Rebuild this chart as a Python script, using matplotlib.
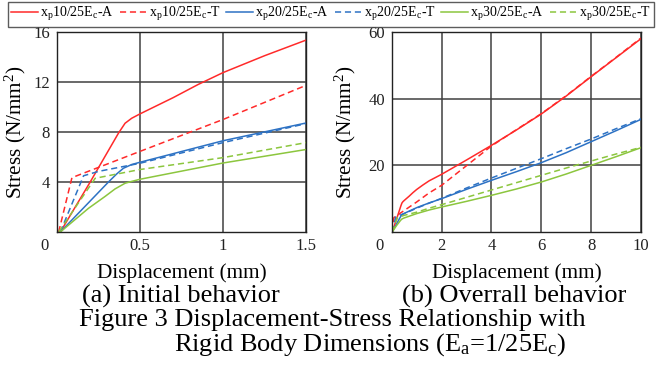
import numpy as np
import matplotlib
matplotlib.use("Agg")
import matplotlib.pyplot as plt
from matplotlib.lines import Line2D

plt.rcParams['font.family'] = ['Liberation Serif', 'DejaVu Serif']
plt.rcParams['mathtext.fontset'] = 'custom'
plt.rcParams['mathtext.rm'] = 'Liberation Serif'
plt.rcParams['mathtext.it'] = 'Liberation Serif:italic'

# displacement (mm) / stress (N/mm2) for each rigid-body size
x10a = [0.02, 0.2, 0.37, 0.41, 0.45, 0.5, 0.7, 0.85, 1.0, 1.25, 1.5, 2.0, 3.0, 4.0, 5.0, 6.0, 7.0, 8.0, 9.0, 10.0]
y10a = [0, 4.0, 7.9, 8.7, 9.1, 9.45, 10.75, 11.8, 12.75, 14.1, 15.35, 17.3, 21.6, 26.0, 30.6, 35.4, 40.8, 46.6, 52.3, 58.0]
x10t = [0.01, 0.09, 0.5, 1.0, 1.5, 2.0, 3.0, 4.0, 5.0, 6.0, 7.0, 8.0, 9.0, 10.0]
y10t = [0, 4.35, 6.45, 9.0, 11.73, 14.0, 19.9, 25.8, 30.7, 35.5, 40.9, 46.7, 52.4, 58.2]

x20a = [0.02, 0.31, 0.36, 0.4, 0.45, 0.5, 1.0, 1.5, 2.0, 3.0, 4.0, 5.0, 6.0, 7.0, 8.0, 9.0, 10.0]
y20a = [0, 4.0, 4.65, 5.1, 5.4, 5.58, 7.3, 8.72, 10.0, 12.8, 15.5, 18.1, 20.8, 23.8, 27.1, 30.4, 33.8]
x20t = [0.02, 0.16, 0.25, 0.5, 1.0, 1.5, 2.0, 3.0, 4.0, 5.0, 6.0, 7.0, 8.0, 9.0, 10.0]
y20t = [0, 4.5, 4.85, 5.5, 7.15, 8.67, 10.1, 13.2, 16.2, 19.1, 22.0, 25.0, 27.9, 31.0, 34.0]

x30a = [0.02, 0.19, 0.29, 0.35, 0.41, 0.45, 0.5, 1.0, 1.5, 2.0, 3.0, 4.0, 5.0, 6.0, 7.0, 8.0, 9.0, 10.0]
y30a = [0, 1.9, 2.85, 3.45, 3.9, 4.05, 4.22, 5.52, 6.6, 7.5, 9.2, 11.0, 12.9, 15.0, 17.4, 20.0, 22.6, 25.3]
x30t = [0.01, 0.23, 0.5, 1.0, 1.5, 2.0, 3.0, 4.0, 5.0, 6.0, 7.0, 8.0, 9.0, 10.0]
y30t = [0, 4.3, 5.0, 5.95, 7.15, 8.2, 10.4, 12.6, 14.8, 17.0, 19.2, 21.3, 23.4, 25.4]

labels = [r'x$_\mathrm{p}$10/25E$_\mathrm{c}$-A', r'x$_\mathrm{p}$10/25E$_\mathrm{c}$-T',
          r'x$_\mathrm{p}$20/25E$_\mathrm{c}$-A', r'x$_\mathrm{p}$20/25E$_\mathrm{c}$-T',
          r'x$_\mathrm{p}$30/25E$_\mathrm{c}$-A', r'x$_\mathrm{p}$30/25E$_\mathrm{c}$-T']

red, blue, green = '#ff2a2a', '#2d72c4', '#8cc63e'
series = [(x10a, y10a, red, '-'), (x10t, y10t, red, '--'),
          (x20a, y20a, blue, '-'), (x20t, y20t, blue, '--'),
          (x30a, y30a, green, '-'), (x30t, y30t, green, '--')]

fig = plt.figure(figsize=(6.62, 3.67), dpi=100)
ax1 = fig.add_axes([0.0861, 0.3678, 0.3761, 0.545])
ax2 = fig.add_axes([0.5917, 0.3678, 0.3766, 0.545])

for ax, xmax, xt, ymax, yt, ylx in [(ax1, 1.5, [0.5, 1, 1.5], 16, [4, 8, 12, 16], -0.115),
                                    (ax2, 10, [2, 4, 6, 8, 10], 60, [20, 40, 60], -0.135)]:
    for xs, ys, c, ls in series:
        ln, = ax.plot(xs, ys, color=c, lw=1.1, ls=ls)
        if ls == '--':
            ln.set_dashes((4, 2.5))
    ax.set_xlim(0, xmax)
    ax.set_ylim(0, ymax)
    ax.set_xticks(xt)
    ax.set_xticklabels([('%g' % v) for v in xt])
    ax.set_yticks(yt)
    ax.tick_params(axis='x', length=0, labelsize=12, pad=4.5, colors='#222222')
    ax.tick_params(axis='y', length=0, labelsize=12, pad=5, colors='#222222')
    ax.grid(True, color='#404040', lw=1.1)
    for s in ax.spines.values():
        s.set_color('#222222')
        s.set_linewidth(1.0)
    ax.set_xlabel('Displacement (mm)', fontsize=15.3)
    ax.set_ylabel(r'Stress (N/mm$^2$)', fontsize=15.3)
    ax.xaxis.set_label_coords(0.5, -0.157)
    ax.yaxis.set_label_coords(ylx, 0.5)
    ax.annotate('0', xy=(0, 0), xycoords='axes fraction', xytext=(-12, -14),
                textcoords='offset pixels', ha='center', va='center', fontsize=12, color='#222222')

handles = [Line2D([], [], color=c, lw=1.1, ls=ls) for _, _, c, ls in series]
for h in handles:
    if h.get_linestyle() == '--':
        h.set_dashes((4, 2.5))
leg = fig.legend(handles, labels, loc='upper center', bbox_to_anchor=(0.5, 0.995), ncol=6,
                 fontsize=10, frameon=True, fancybox=False, edgecolor='#333333',
                 handlelength=1.9, handletextpad=0.2, columnspacing=0.4, borderpad=0.25,
                 borderaxespad=0)
leg.get_frame().set_linewidth(1.0)

fig.text(0.2734, 0.191, '(a) Initial behavior', ha='center', va='center', fontsize=19)
fig.text(0.776, 0.191, '(b) Overrall behavior', ha='center', va='center', fontsize=19)
fig.text(0.502, 0.128, 'Figure 3 Displacement-Stress Relationship with', ha='center', va='center', fontsize=19)
fig.text(0.559, 0.06, r'Rigid Body Dimensions (E$_\mathrm{a}$=1/25E$_\mathrm{c}$)', ha='center', va='center', fontsize=19)

fig.savefig('out.png', dpi=100)
